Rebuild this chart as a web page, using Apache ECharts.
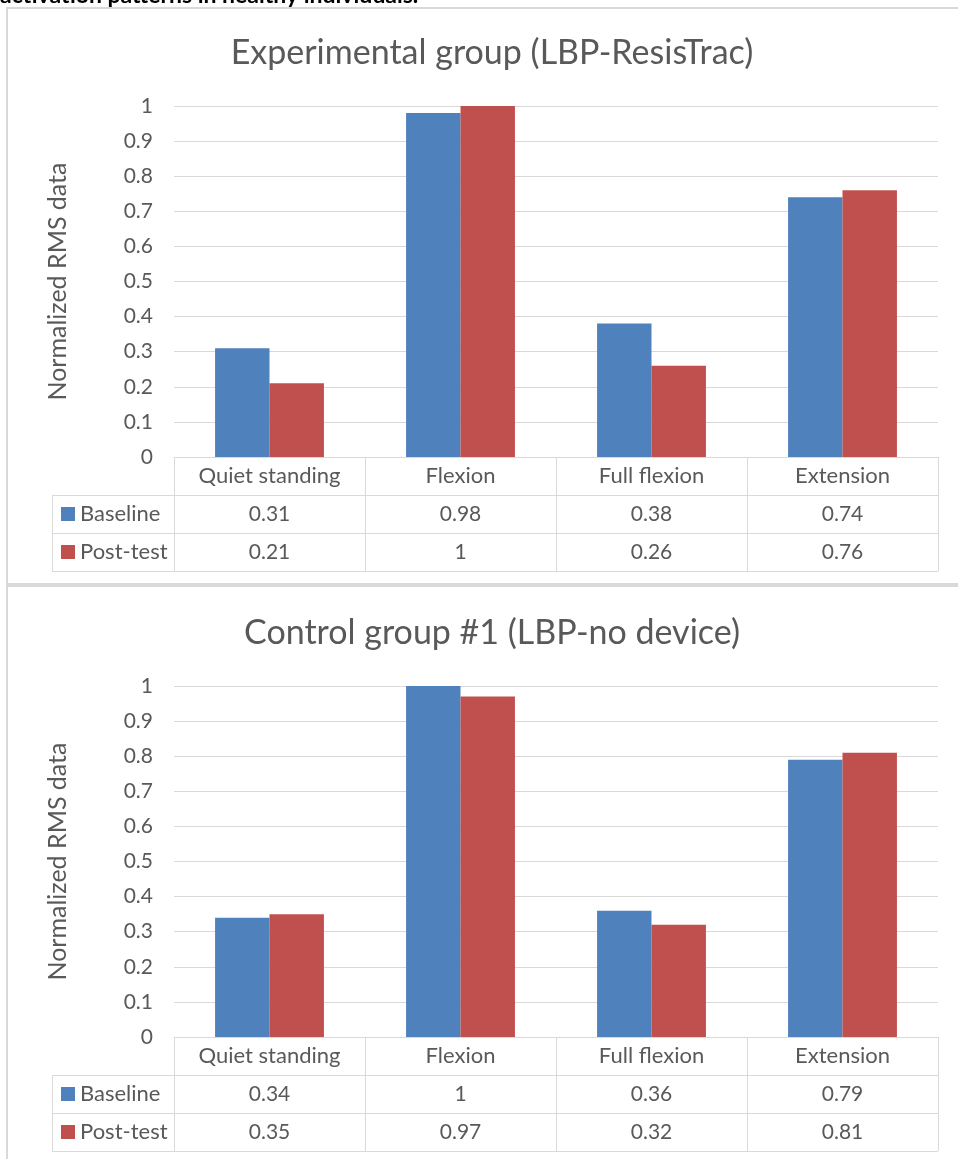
<!DOCTYPE html>
<html><head><meta charset="utf-8">
<script src="https://cdn.jsdelivr.net/npm/echarts@6/dist/echarts.min.js"></script>
<style>html,body{margin:0;padding:0;background:#fff;overflow:hidden}#c{width:958px;height:1159px}</style>
</head><body><div id="c"></div>
<script>
// ---- data ----
const categories = ['Quiet standing', 'Flexion', 'Full flexion', 'Extension'];
const seriesNames = ['Baseline', 'Post-test'];
const expBaseline = [0.31, 0.98, 0.38, 0.74];
const expPost = [0.21, 1, 0.26, 0.76];
const ctlBaseline = [0.34, 1, 0.36, 0.79];
const ctlPost = [0.35, 0.97, 0.32, 0.81];
const panelTitles = ['Experimental group (LBP-ResisTrac)', 'Control group #1 (LBP-no device)'];
const yAxisTitle = 'Normalized RMS data';
const introText = 'activation patterns in healthy individuals.';

const panels = [
  { title: panelTitles[0], values: [expBaseline, expPost] },
  { title: panelTitles[1], values: [ctlBaseline, ctlPost] }
];

// ---- style ----
const FONT = 'Lato';
const TXT = '#595959';
const LINE = '#d9d9d9';
const COLORS = ['#4f81bd', '#c0504d'];
const OFF = 580;
const G_LEFT = 174, G_RIGHT = 938, G_TOP = 106, G_H = 351;
const ROW_H = 38;
const TBL_LEFT = 52;
const FS = 21;

const chart = echarts.init(document.getElementById('c'), null, { renderer: 'canvas' });

const grid = [], xAxis = [], yAxis = [], series = [], title = [];
panels.forEach((p, i) => {
  const off = i * OFF;
  grid.push({ left: G_LEFT, width: G_RIGHT - G_LEFT, top: G_TOP + off, height: G_H });
  xAxis.push({
    type: 'category', gridIndex: i, data: categories,
    axisLine: { lineStyle: { color: LINE, width: 1 } },
    axisTick: { show: false },
    axisLabel: { color: TXT, fontFamily: FONT, fontSize: 22, margin: 8 }
  });
  yAxis.push({
    type: 'value', gridIndex: i, min: 0, max: 1, interval: 0.1,
    name: yAxisTitle, nameLocation: 'middle', nameRotate: 90, nameGap: 104,
    nameTextStyle: { color: TXT, fontFamily: FONT, fontSize: 25 },
    axisLine: { show: false }, axisTick: { show: false },
    axisLabel: { color: TXT, fontFamily: FONT, fontSize: FS, margin: 21,
      formatter: v => String(+v.toFixed(1)) },
    splitLine: { lineStyle: { color: LINE, width: 1 } }
  });
  p.values.forEach((vals, s) => {
    series.push({
      type: 'bar', name: seriesNames[s], xAxisIndex: i, yAxisIndex: i, data: vals,
      barGap: '0%', barCategoryGap: '43%',
      itemStyle: { color: COLORS[s] }, animation: false
    });
  });
  title.push({
    text: p.title, left: 487, top: 31 + off, textAlign: 'center',
    textStyle: { color: TXT, fontFamily: FONT, fontSize: 34, fontWeight: 'normal' }
  });
});

chart.setOption({ animation: false, title, grid, xAxis, yAxis, series });

// ---- frame + data table (positions from the category scale) ----
const g = [];
const line = (x1, y1, x2, y2, w, c) => g.push({ type: 'line', shape: { x1, y1, x2, y2 }, style: { stroke: c || LINE, lineWidth: w || 1 }, silent: true });
const text = (x, y, t, align, size, color, weight) => g.push({ type: 'text', x, y, style: { text: t, fill: color || TXT, font: (weight || 'normal') + ' ' + (size || FS) + 'px ' + FONT, textAlign: align || 'center', textVerticalAlign: 'middle' }, silent: true });

// intro text (cut off at top)
text(0, -4, introText, 'left', 23, '#000', 'bold');
// frame
g.push({ type: 'rect', shape: { x: 6, y: 7, width: 2, height: 1159 }, style: { fill: LINE }, silent: true });
g.push({ type: 'rect', shape: { x: 6, y: 7, width: 960, height: 2 }, style: { fill: LINE }, silent: true });
g.push({ type: 'rect', shape: { x: 6, y: 583, width: 960, height: 4 }, style: { fill: LINE }, silent: true });

panels.forEach((p, i) => {
  const centers = categories.map((c, k) => chart.convertToPixel({ xAxisIndex: i }, k));
  const band = centers[1] - centers[0];
  const axisY = chart.convertToPixel({ yAxisIndex: i }, 0);
  const r1 = axisY + ROW_H, r2 = r1 + ROW_H, r3 = r2 + ROW_H;
  const left = centers[0] - band / 2, right = centers[centers.length - 1] + band / 2;
  [r1, r2, r3].forEach(y => line(TBL_LEFT, Math.round(y) + 0.5, right, Math.round(y) + 0.5));
  line(TBL_LEFT + 0.5, r1, TBL_LEFT + 0.5, r3);
  for (let k = 0; k <= categories.length; k++) {
    const x = Math.round(left + k * band) + 0.5;
    line(x, axisY, x, r3);
  }
  p.values.forEach((vals, s) => {
    const cy = (s === 0 ? r1 : r2) + ROW_H / 2;
    g.push({ type: 'rect', shape: { x: 61, y: cy - 7, width: 14, height: 14 }, style: { fill: COLORS[s] }, silent: true });
    text(80, cy, seriesNames[s], 'left', 22);
    vals.forEach((v, k) => text(centers[k], cy, String(v)));
  });
});

chart.setOption({ graphic: g });
</script>
</body></html>
